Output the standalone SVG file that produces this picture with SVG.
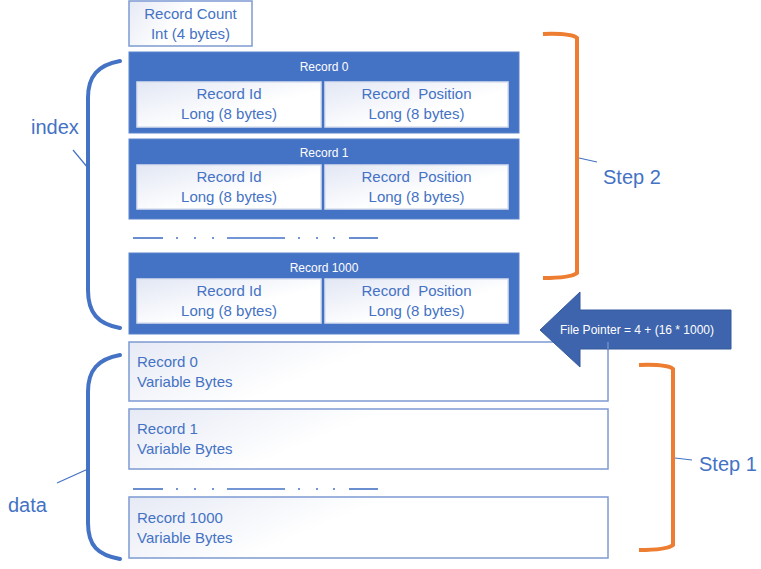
<svg xmlns="http://www.w3.org/2000/svg" width="761" height="569" viewBox="0 0 761 569">
<defs>
<linearGradient id="lg" x1="0" y1="0" x2="1" y2="1">
<stop offset="0" stop-color="#e2e7f4"/>
<stop offset="0.6" stop-color="#ffffff"/>
<stop offset="1" stop-color="#ffffff"/>
</linearGradient>
<linearGradient id="lg2" x1="0" y1="0" x2="1" y2="0.3">
<stop offset="0" stop-color="#e6eaf5"/>
<stop offset="0.5" stop-color="#ffffff"/>
<stop offset="1" stop-color="#ffffff"/>
</linearGradient>
</defs>
<style>
.t{font-family:"Liberation Sans",Arial,sans-serif;fill:#4472c4;font-size:15px}
.c{text-anchor:middle}
.w{font-family:"Liberation Sans",Arial,sans-serif;fill:#ffffff;font-size:12px;text-anchor:middle}
.big{font-family:"Liberation Sans",Arial,sans-serif;fill:#4472c4;font-size:20px}
.blue{fill:#4472c4;stroke:#5a83cc;stroke-width:1}
.inner{fill:url(#lg);stroke:#d9dfee;stroke-width:1.5}
.data{fill:url(#lg2);stroke:#7e9bd2;stroke-width:1.5}
.br{fill:none;stroke:#4472c4;stroke-width:4;stroke-linecap:round}
.ob{fill:none;stroke:#ed7d31;stroke-width:4}
.lead{stroke:#4472c4;stroke-width:1.2}
.dash{stroke:#4472c4;stroke-width:1.6}
.pre{white-space:pre}
</style>

<g id="record-count">
<rect x="129" y="1" width="123" height="45" class="data"/>
<text x="190.5" y="19" class="t c">Record Count</text>
<text x="190.5" y="39" class="t c">Int (4 bytes)</text>
</g>

<g id="index-record-0">
<rect x="129" y="52" width="390" height="81" class="blue"/>
<text x="324" y="71" class="w">Record 0</text>
<rect x="137" y="82" width="184" height="45" class="inner"/>
<rect x="325" y="82" width="183" height="45" class="inner"/>
<text x="229" y="99" class="t c">Record Id</text>
<text x="229" y="119" class="t c">Long (8 bytes)</text>
<text x="416.5" y="99" class="t c pre" xml:space="preserve">Record  Position</text>
<text x="416.5" y="119" class="t c">Long (8 bytes)</text>
</g>

<g id="index-record-1">
<rect x="129" y="139" width="390" height="80" class="blue"/>
<text x="324" y="157" class="w">Record 1</text>
<rect x="137" y="165" width="184" height="44" class="inner"/>
<rect x="325" y="165" width="183" height="44" class="inner"/>
<text x="229" y="182" class="t c">Record Id</text>
<text x="229" y="202" class="t c">Long (8 bytes)</text>
<text x="416.5" y="182" class="t c pre" xml:space="preserve">Record  Position</text>
<text x="416.5" y="202" class="t c">Long (8 bytes)</text>
</g>

<g id="index-ellipsis">
<line x1="133" y1="238" x2="163" y2="238" class="dash"/>
<line x1="176" y1="238" x2="178" y2="238" class="dash"/>
<line x1="194" y1="238" x2="196" y2="238" class="dash"/>
<line x1="212" y1="238" x2="214" y2="238" class="dash"/>
<line x1="227" y1="238" x2="285" y2="238" class="dash"/>
<line x1="298" y1="238" x2="300" y2="238" class="dash"/>
<line x1="316" y1="238" x2="318" y2="238" class="dash"/>
<line x1="333" y1="238" x2="335" y2="238" class="dash"/>
<line x1="349" y1="238" x2="378" y2="238" class="dash"/>
</g>

<g id="index-record-1000">
<rect x="129" y="253" width="390" height="81" class="blue"/>
<text x="324" y="272" class="w">Record 1000</text>
<rect x="137" y="279" width="184" height="44" class="inner"/>
<rect x="325" y="279" width="183" height="44" class="inner"/>
<text x="229" y="296" class="t c">Record Id</text>
<text x="229" y="316" class="t c">Long (8 bytes)</text>
<text x="416.5" y="296" class="t c pre" xml:space="preserve">Record  Position</text>
<text x="416.5" y="316" class="t c">Long (8 bytes)</text>
</g>

<g id="data-record-0">
<rect x="129" y="342" width="479" height="59" class="data"/>
<text x="137" y="367" class="t">Record 0</text>
<text x="137" y="387" class="t">Variable Bytes</text>
</g>

<g id="data-record-1">
<rect x="129" y="409" width="479" height="60" class="data"/>
<text x="137" y="434" class="t">Record 1</text>
<text x="137" y="454" class="t">Variable Bytes</text>
</g>

<g id="data-ellipsis">
<line x1="133" y1="489" x2="163" y2="489" class="dash"/>
<line x1="176" y1="489" x2="178" y2="489" class="dash"/>
<line x1="194" y1="489" x2="196" y2="489" class="dash"/>
<line x1="212" y1="489" x2="214" y2="489" class="dash"/>
<line x1="227" y1="489" x2="285" y2="489" class="dash"/>
<line x1="298" y1="489" x2="300" y2="489" class="dash"/>
<line x1="316" y1="489" x2="318" y2="489" class="dash"/>
<line x1="333" y1="489" x2="335" y2="489" class="dash"/>
<line x1="349" y1="489" x2="378" y2="489" class="dash"/>
</g>

<g id="data-record-1000">
<rect x="129" y="497" width="479" height="61" class="data"/>
<text x="137" y="523" class="t">Record 1000</text>
<text x="137" y="543" class="t">Variable Bytes</text>
</g>

<g id="file-pointer">
<polygon points="540,330 580,292 580,310 731,310 731,349 580,349 580,367" fill="#3d64ac" stroke="#35599c" stroke-width="1"/>
<line x1="608" y1="349" x2="608" y2="342" stroke="#7e9bd2" stroke-width="1.2"/>
<text x="637" y="334" class="w" style="font-size:12px">File Pointer = 4 + (16 * 1000)</text>
</g>

<g id="index-label">
<path d="M120,61 C98,65 88,76 88,98 L88,290 C88,313 98,324 120,328" class="br"/>
<text x="31" y="134" class="big">index</text>
</g>

<g id="data-label">
<path d="M120,355 C98,359 88,370 88,392 L88,523 C88,546 98,555 120,559" class="br"/>
<text x="8" y="512" class="big">data</text>
</g>

<g id="step2">
<path d="M543,34 Q571,33 577,38 L577,273 Q571,278 543,278" class="ob"/>
<text x="603" y="184" class="big">Step 2</text>
</g>

<g id="step1">
<path d="M639,365 Q667,364 673,369 L673,545 Q667,550 639,550" class="ob"/>
<text x="699" y="471" class="big">Step 1</text>
</g>

<g id="connectors">
<line x1="88" y1="168" x2="73" y2="150" class="lead"/>
<line x1="88" y1="469" x2="57" y2="483" class="lead"/>
<line x1="579" y1="158" x2="597" y2="162" class="lead"/>
<line x1="675" y1="458" x2="692" y2="460" class="lead"/>
</g>
</svg>
